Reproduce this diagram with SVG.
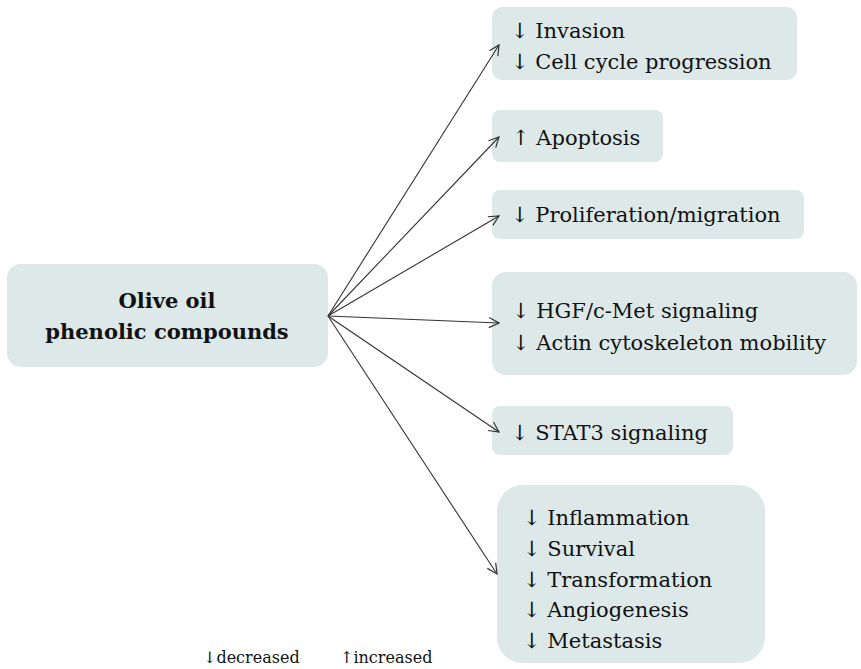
<svg xmlns="http://www.w3.org/2000/svg" width="861" height="669" viewBox="0 0 861 669">
<defs>
<marker id="ah" viewBox="0 0 12 12" refX="11" refY="6" markerWidth="12" markerHeight="12" markerUnits="userSpaceOnUse" orient="auto">
<path d="M1,1 L11,6 L1,11" fill="none" stroke="#333" stroke-width="1.2"/>
</marker>
</defs>
<style>
.box{fill:#dde8e8;}
.t{font-family:"DejaVu Serif","Liberation Serif",serif;font-size:21px;fill:#111;}
.b{font-weight:bold;}
.lg{font-family:"DejaVu Serif","Liberation Serif",serif;font-size:16px;fill:#111;}
.c{stroke:#333;stroke-width:1.1;fill:none;marker-end:url(#ah);}
</style>
<g id="src">
<rect class="box" x="7" y="264" width="321" height="103" rx="14"/>
<text class="t b" x="167" y="308" text-anchor="middle">Olive oil</text>
<text class="t b" x="167" y="339" text-anchor="middle">phenolic compounds</text>
</g>
<g id="n1">
<rect class="box" x="492" y="7" width="305" height="73" rx="10"/>
<text class="t" x="511" y="38">↓ Invasion</text>
<text class="t" x="511" y="69">↓ Cell cycle progression</text>
</g>
<g id="n2">
<rect class="box" x="492" y="110" width="171" height="52" rx="8"/>
<text class="t" x="512" y="145">↑ Apoptosis</text>
</g>
<g id="n3">
<rect class="box" x="492" y="190" width="312" height="49" rx="8"/>
<text class="t" x="511" y="222">↓ Proliferation/migration</text>
</g>
<g id="n4">
<rect class="box" x="492" y="272" width="365" height="103" rx="14"/>
<text class="t" x="512" y="318">↓ HGF/c-Met signaling</text>
<text class="t" x="512" y="350">↓ Actin cytoskeleton mobility</text>
</g>
<g id="n5">
<rect class="box" x="492" y="406" width="241" height="49" rx="8"/>
<text class="t" x="511" y="440">↓ STAT3 signaling</text>
</g>
<g id="n6">
<rect class="box" x="497" y="485" width="268" height="178" rx="26"/>
<text class="t" x="523" y="525">↓ Inflammation</text>
<text class="t" x="523" y="556">↓ Survival</text>
<text class="t" x="523" y="587">↓ Transformation</text>
<text class="t" x="523" y="617">↓ Angiogenesis</text>
<text class="t" x="523" y="648">↓ Metastasis</text>
</g>
<g id="connectors">
<line class="c" x1="328" y1="316" x2="499" y2="45"/>
<line class="c" x1="328" y1="316" x2="499" y2="137"/>
<line class="c" x1="328" y1="316" x2="499" y2="216"/>
<line class="c" x1="328" y1="316" x2="499" y2="323"/>
<line class="c" x1="328" y1="316" x2="499" y2="432"/>
<line class="c" x1="328" y1="316" x2="497" y2="574"/>
</g>
<g id="legend">
<text class="lg" x="203" y="663">↓decreased</text>
<text class="lg" x="340" y="663">↑increased</text>
</g>
</svg>
